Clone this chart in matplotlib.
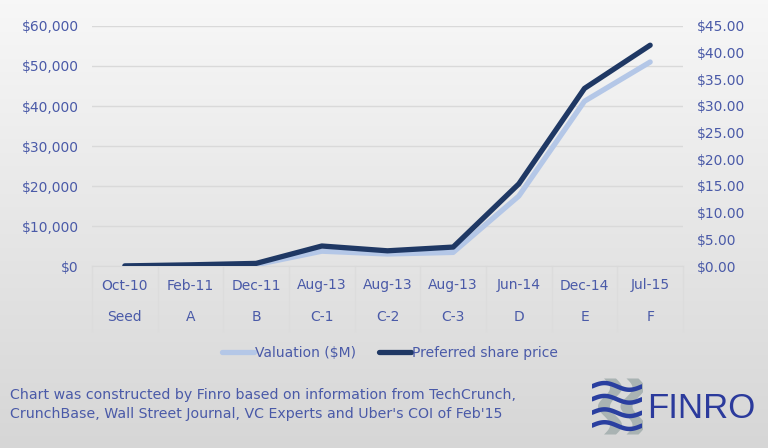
import numpy as np
import matplotlib
matplotlib.use("Agg")
import matplotlib.pyplot as plt
from matplotlib.ticker import FuncFormatter, MultipleLocator

plt.rcParams['font.family'] = ['DejaVu Sans']

dates = ["Oct-10", "Feb-11", "Dec-11", "Aug-13", "Aug-13", "Aug-13", "Jun-14", "Dec-14", "Jul-15"]
rounds = ["Seed", "A", "B", "C-1", "C-2", "C-3", "D", "E", "F"]
valuation = [4, 60, 330, 3700, 3000, 3400, 17500, 41200, 51000]   # $M, left axis
share_price = [0.02, 0.22, 0.49, 3.75, 2.85, 3.55, 15.4, 33.3, 41.4]  # $, right axis

TXT = "#4a5aa8"
LIGHT = "#b4c7e7"
DARK = "#1f3864"
GRID = "#d9d9d9"
FS = 10

fig = plt.figure(figsize=(7.68, 4.48), dpi=100)

# gradient background
bg = fig.add_axes([0, 0, 1, 1], zorder=-10)
grad = np.linspace(0.97, 0.84, 256).reshape(-1, 1)
bg.imshow(np.dstack([grad, grad, grad]), aspect="auto", extent=[0, 1, 0, 1])
bg.axis("off")

W, H = 768, 448
ax = fig.add_axes([92 / W, (H - 266) / H, (683 - 92) / W, (266 - 26) / H])
ax.patch.set_alpha(0)
x = np.arange(len(dates))
ax.plot(x, valuation, color=LIGHT, lw=3.8, solid_capstyle="round", label="Valuation ($M)", zorder=3)
ax.set_ylim(0, 60000)
ax.set_xlim(-0.5, len(dates) - 0.5)
ax.yaxis.set_major_locator(MultipleLocator(10000))
ax.yaxis.set_major_formatter(FuncFormatter(lambda v, p: "${:,.0f}".format(v)))
ax.grid(axis="y", color=GRID, lw=1)
ax.set_axisbelow(True)
for s in ["top", "right", "left"]:
    ax.spines[s].set_visible(False)
ax.spines["bottom"].set_color(GRID)
ax.tick_params(axis="y", length=0, pad=9.5, labelcolor=TXT, labelsize=FS)
ax.set_xticks(x)
ax.set_xticklabels([d + "\n\n" + r for d, r in zip(dates, rounds)], linespacing=1.15)
ax.tick_params(axis="x", length=0, pad=9, labelcolor=TXT, labelsize=FS)

# category separators below the axis
for b in np.arange(-0.5, len(dates), 1.0):
    ax.plot([b, b], [0, -0.27], color="#dcdcdc", lw=1,
            transform=ax.get_xaxis_transform(), clip_on=False)

ax2 = ax.twinx()
ax2.plot(x, share_price, color=DARK, lw=3.8, solid_capstyle="round", label="Preferred share price", zorder=4)
ax2.set_ylim(0, 45)
ax2.yaxis.set_major_locator(MultipleLocator(5))
ax2.yaxis.set_major_formatter(FuncFormatter(lambda v, p: "${:.2f}".format(v)))
for s in ["top", "right", "left", "bottom"]:
    ax2.spines[s].set_visible(False)
ax2.tick_params(axis="y", length=0, pad=10, labelcolor=TXT, labelsize=FS)

h1, l1 = ax.get_legend_handles_labels()
h2, l2 = ax2.get_legend_handles_labels()
leg = fig.legend(h1 + h2, l1 + l2, loc="center", bbox_to_anchor=(390 / W, 1 - 353 / H), ncol=2,
                 frameon=False, fontsize=FS, handlelength=2.3, handletextpad=0.1, columnspacing=1.6)
for t in leg.get_texts():
    t.set_color(TXT)

fig.text(10 / W, 1 - 404.5 / H,
         "Chart was constructed by Finro based on information from TechCrunch,\n"
         "CrunchBase, Wall Street Journal, VC Experts and Uber's COI of Feb'15",
         color=TXT, fontsize=10.2, va="center", ha="left", linespacing=1.42)

# logo
lg = fig.add_axes([592 / W, (H - 434) / H, 50 / W, 56 / H])
lg.axis("off")
lg.set_xlim(0, 1)
lg.set_ylim(0, 1)
t = np.linspace(0, 1, 100)
for k in range(2):
    xs = 0.35 + 0.45 * k + 0.12 * np.sin(2 * np.pi * 1.5 * t)
    lg.fill_betweenx(t, xs - 0.12, xs + 0.12, color="#a9b3b3", lw=0)
for yy in [0.15, 0.38, 0.62, 0.85]:
    lg.plot(t, yy + 0.06 * np.sin(2 * np.pi * t), color="#2a3fa0", lw=3.2, solid_capstyle="round")
fig.text(647 / W, 1 - 408 / H, "FINRO", family="Liberation Sans", color="#2b3a9c",
         fontsize=25, va="center", ha="left")

fig.savefig("out.png", dpi=100)
